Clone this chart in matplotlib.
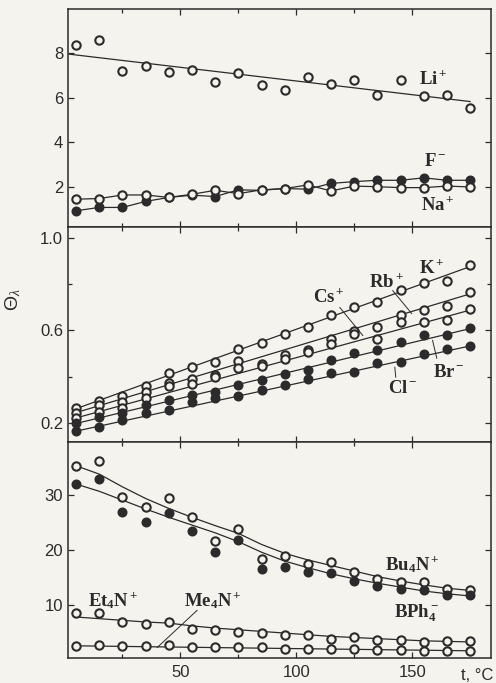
import numpy as np
import matplotlib
matplotlib.use("Agg")
import matplotlib.pyplot as plt

# temperatures, degC
T = [5, 15, 25, 35, 45, 55, 65, 75, 85, 95, 105, 115, 125, 135, 145, 155, 165, 175]

# --- top panel ---
LI = [8.37, 8.59, 7.23, 7.45, 7.19, 7.27, 6.70, 7.11, 6.59, 6.34, 6.93, 6.64,
      6.79, 6.15, 6.81, 6.07, 6.15, 5.56]
LI_FIT_T = [2, 175]
LI_FIT = [7.97, 5.84]
F_ION = [0.93, 1.08, 1.08, 1.35, 1.53, 1.63, 1.57, 1.87, 1.85, 1.93, 1.90, 2.16,
         2.24, 2.30, 2.30, 2.41, 2.30, 2.30]
NA = [1.45, 1.48, 1.64, 1.64, 1.53, 1.67, 1.85, 1.70, 1.87, 1.93, 2.09, 1.82,
      2.04, 2.01, 1.97, 1.97, 2.04, 2.00]

# --- middle panel ---
K = [0.264, 0.295, 0.318, 0.358, 0.416, 0.442, 0.464, 0.522, 0.546, 0.585, 0.617,
     0.667, 0.701, 0.721, 0.775, 0.806, 0.812, 0.882]
RB = [0.244, 0.277, 0.292, 0.335, 0.373, 0.392, 0.406, 0.466, 0.456, 0.492, 0.514,
      0.564, 0.597, 0.614, 0.666, 0.689, 0.707, 0.764]
CS = [0.220, 0.249, 0.263, 0.306, 0.359, 0.368, 0.398, 0.439, 0.448, 0.478, 0.505,
      0.540, 0.583, 0.564, 0.635, 0.635, 0.643, 0.693]
BR = [0.199, 0.227, 0.242, 0.277, 0.299, 0.320, 0.335, 0.363, 0.388, 0.411, 0.431,
      0.471, 0.502, 0.517, 0.550, 0.579, 0.581, 0.611]
CL = [0.165, 0.184, 0.213, 0.242, 0.256, 0.292, 0.306, 0.318, 0.342, 0.363, 0.392,
      0.416, 0.421, 0.460, 0.464, 0.500, 0.521, 0.531]
FIT2_T = [5, 175]
K_FIT = [0.262, 0.876]
RB_FIT = [0.245, 0.758]
CS_FIT = [0.222, 0.688]
BR_FIT = [0.198, 0.608]
CL_FIT = [0.165, 0.533]

# --- bottom panel ---
BU4N = [35.2, 36.0, 29.5, 27.7, 29.4, 25.9, 21.7, 23.8, 18.4, 19.0, 17.5, 17.8,
        16.0, 14.8, 14.2, 14.2, 12.9, 12.8]
BPH4 = [31.9, 32.8, 26.8, 25.1, 26.6, 23.5, 19.7, 21.8, 16.6, 17.0, 16.0, 15.9,
        14.4, 13.5, 12.9, 12.8, 11.8, 11.8]
BU4N_FIT = [35.2, 33.7, 31.4, 29.3, 27.5, 25.9, 24.4, 23.0, 21.0, 19.4, 18.2, 17.2,
            16.2, 15.2, 14.4, 13.7, 13.1, 12.7]
BPH4_FIT = [31.9, 30.6, 29.0, 27.4, 25.9, 24.5, 23.1, 21.5, 19.6, 18.0, 16.8, 15.7,
            14.8, 14.0, 13.3, 12.6, 12.1, 11.7]
ET4N = [8.6, 8.6, 7.0, 6.6, 7.0, 5.8, 5.5, 5.2, 5.0, 4.6, 4.6, 4.0, 4.3, 3.7, 3.7,
        3.4, 3.5, 3.5]
ET4N_FIT = [7.9, 7.6, 7.3, 7.0, 6.8, 6.3, 5.9, 5.6, 5.3, 5.0, 4.7, 4.4, 4.2, 4.0,
            3.8, 3.6, 3.5, 3.4]
ME4N = [2.6, 2.8, 2.6, 2.6, 2.8, 2.4, 2.4, 2.5, 2.5, 2.2, 2.2, 2.1, 2.2, 1.9, 2.0,
        1.8, 1.8, 1.8]
ME4N_FIT_T = [5, 175]
ME4N_FIT = [2.7, 1.8]

INK = "#2b2b2b"
BG = "#f5f3ee"

plt.rcParams["mathtext.fontset"] = "custom"
plt.rcParams["mathtext.rm"] = "Liberation Serif"
plt.rcParams["mathtext.bf"] = "Liberation Serif:bold"
plt.rcParams["mathtext.it"] = "Liberation Serif:italic"
plt.rcParams["font.family"] = ["Liberation Sans", "DejaVu Sans"]

fig = plt.figure(figsize=(4.96, 6.83), dpi=100, facecolor=BG)
L, W = 68 / 496, 423 / 496
ax1 = fig.add_axes([L, 1 - 227 / 683, W, 218 / 683])
ax2 = fig.add_axes([L, 1 - 442 / 683, W, 215 / 683])
ax3 = fig.add_axes([L, 1 - 658 / 683, W, 216 / 683])


def open_pts(ax, x, y):
    ax.plot(x, y, "o", ms=6.0, mfc=BG, mec=INK, mew=1.5, zorder=3)


def filled_pts(ax, x, y):
    ax.plot(x, y, "o", ms=6.0, mfc=INK, mec=INK, mew=1.2, zorder=3)


def line(ax, x, y):
    ax.plot(x, y, "-", color=INK, lw=0.9, zorder=2)


def label(ax, x, y, s):
    ax.text(x, y, s, ha="center", va="center", fontsize=13.5, color=INK)


def leader(ax, x0, y0, x1, y1):
    ax.plot([x0, x1], [y0, y1], "-", color=INK, lw=0.7, zorder=2)


# top panel
line(ax1, LI_FIT_T, LI_FIT)
open_pts(ax1, T, LI)
line(ax1, T, F_ION)
line(ax1, T, NA)
filled_pts(ax1, T, F_ION)
open_pts(ax1, T, NA)
label(ax1, 159, 6.85, r"$\mathbf{Li^+}$")
label(ax1, 160, 3.15, r"$\mathbf{F^-}$")
label(ax1, 161, 1.2, r"$\mathbf{Na^+}$")
ax1.set_ylim(0.2, 10.0)
ax1.set_yticks([2, 4, 6, 8])

# middle panel
for fit in (K_FIT, RB_FIT, CS_FIT, BR_FIT, CL_FIT):
    line(ax2, FIT2_T, fit)
for ser in (K, RB, CS):
    open_pts(ax2, T, ser)
for ser in (BR, CL):
    filled_pts(ax2, T, ser)
label(ax2, 114, 0.745, r"$\mathbf{Cs^+}$")
label(ax2, 139, 0.808, r"$\mathbf{Rb^+}$")
label(ax2, 158.5, 0.87, r"$\mathbf{K^+}$")
label(ax2, 166, 0.418, r"$\mathbf{Br^-}$")
label(ax2, 146, 0.348, r"$\mathbf{Cl^-}$")
leader(ax2, 118.8, 0.699, 128.7, 0.578)
leader(ax2, 141.6, 0.772, 149.8, 0.673)
leader(ax2, 158.8, 0.557, 160.6, 0.480)
leader(ax2, 142.5, 0.441, 142.9, 0.398)
ax2.set_ylim(0.118, 1.047)
ax2.set_yticks([0.2, 0.6, 1.0])
ax2.set_yticks([0.4, 0.8], minor=True)

# bottom panel
line(ax3, T, BU4N_FIT)
line(ax3, T, BPH4_FIT)
line(ax3, T, ET4N_FIT)
line(ax3, ME4N_FIT_T, ME4N_FIT)
open_pts(ax3, T, BU4N)
filled_pts(ax3, T, BPH4)
open_pts(ax3, T, ET4N)
open_pts(ax3, T, ME4N)
label(ax3, 150, 17.3, r"$\mathbf{Bu_4N^+}$")
label(ax3, 152, 8.6, r"$\mathbf{BPh_4^-}$")
label(ax3, 21, 10.9, r"$\mathbf{Et_4N^+}$")
label(ax3, 64, 10.9, r"$\mathbf{Me_4N^+}$")
leader(ax3, 57.2, 9.1, 40.0, 2.4)
ax3.set_ylim(0.5, 39.5)
ax3.set_yticks([10, 20, 30])

for ax in (ax1, ax2, ax3):
    ax.set_facecolor(BG)
    ax.set_xlim(1.5, 184)
    ax.set_xticks([50, 100, 150])
    ax.set_xticks([25, 75, 125], minor=True)
    ax.tick_params(which="both", direction="in", top=True, right=True,
                   colors=INK, labelsize=12, width=0.9)
    ax.tick_params(which="major", length=4)
    ax.tick_params(which="minor", length=3)
    for sp in ax.spines.values():
        sp.set_color(INK)
        sp.set_linewidth(1.1)
    if ax is not ax3:
        ax.tick_params(labelbottom=False)

ax3.tick_params(axis="x", pad=5)
fig.text(0.026, 1 - 300 / 683, "Θ$_\\lambda$", rotation=90, ha="center",
         va="center", fontsize=14, color=INK)
fig.text(0.962, 1 - 676 / 683, "t, °C", ha="center", va="center", fontsize=12,
         color=INK)

fig.savefig("out.png", dpi=100, facecolor=BG)
